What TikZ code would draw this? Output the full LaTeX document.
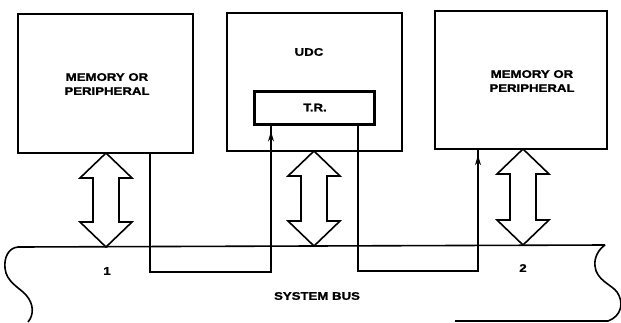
\documentclass[tikz,border=0pt]{standalone}
\usepackage{fontspec}
\usetikzlibrary{calc,arrows.meta}
\newfontfamily\lblfont[FakeStretch=1.2,FakeBold=1.2]{Liberation Sans}
\newcommand\hollowarr[3]{%
  \draw[hollow] (#1,#2) -- ++(26,25) -- ++(-13,0) -- (#1+13,#3-25) -- ++(13,0) -- (#1,#3)
    -- ++(-26,-25) -- ++(13,0) -- (#1-13,#2+25) -- ++(-13,0) -- cycle;}
\begin{document}
\begin{tikzpicture}[x=1pt,y=-1pt,
  box/.style={draw,line width=2.3pt,inner sep=0pt},
  trbox/.style={draw,line width=3pt,inner sep=0pt},
  lbl/.style={font=\lblfont\bfseries\fontsize{11}{14}\selectfont,align=center,inner sep=0pt},
  hollow/.style={line width=1.6pt,line join=miter},
  wire/.style={line width=1.1pt},
  busline/.style={line width=1.6pt},
  tip/.style={-{Stealth[length=10pt,width=6pt]}}]
\useasboundingbox (0,0) rectangle (621,322);
% boxes
\node[box,minimum width=175pt,minimum height=139pt] (m1) at (105.5,83.5) {};
\node[box,minimum width=175pt,minimum height=138pt] (udc) at (314.5,82) {};
\node[trbox,minimum width=120pt,minimum height=33pt] (tr) at (314,107.5) {};
\node[box,minimum width=172pt,minimum height=138pt] (m2) at (521,80) {};
% labels
\node[lbl] (t1) at (107,84) {MEMORY OR\\PERIPHERAL};
\node[lbl] (t2) at (532,81) {MEMORY OR\\PERIPHERAL};
\node[lbl] (tu) at (309,52) {UDC};
\node[lbl] (ttr) at (315,107.5) {T.R.};
\node[lbl] (n1) at (107,271) {1};
\node[lbl] (n2) at (523,268) {2};
\node[lbl] (sb) at (317,296) {SYSTEM BUS};
% bus
\coordinate (busL) at (18,247);
\coordinate (busR) at (605,245);
\draw[busline] (busL) -- (busR);
\draw[busline] (busL) .. controls (8,248) and (4,258) .. (5,268)
  .. controls (6,282) and (20,288) .. (26,295)
  .. controls (34,304) and (34,315) .. (28,322);
\draw[busline] (busR) .. controls (598,250) and (594,258) .. (595,266)
  .. controls (596,280) and (612,285) .. (617,292)
  .. controls (624,302) and (622,316) .. (608,321) -- (455,321);
% hollow double arrows
\hollowarr{106}{153}{247}
\hollowarr{314}{151}{246}
\hollowarr{523}{149}{245}
% connectors
\coordinate (a1) at ($(m1.south)+(44.5,0)$);
\coordinate (a2) at ($(tr.south)+(-43,0)$);
\coordinate (b1) at ($(tr.south)+(44,0)$);
\coordinate (b2) at ($(m2.south)+(-43,0)$);
\draw[wire] (a1) -- (a1 |- 0,272) -- (a2 |- 0,272) -- (a2);
\draw[wire,tip,shorten >=6pt] (a2 |- 0,272) -- (a2);
\draw[wire] (b1) -- (b1 |- 0,271) -- (b2 |- 0,271) -- (b2);
\draw[wire,tip,shorten >=5pt] (b2 |- 0,271) -- (b2);
\end{tikzpicture}
\end{document}
